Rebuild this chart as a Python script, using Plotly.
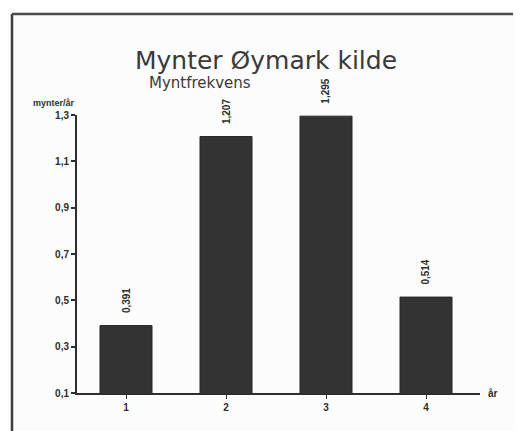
import plotly.graph_objects as go

categories = [1, 2, 3, 4]
values = [0.391, 1.207, 1.295, 0.514]
y_ticks = [0.1, 0.3, 0.5, 0.7, 0.9, 1.1, 1.3]
y_tick_labels = ["0,1", "0,3", "0,5", "0,7", "0,9", "1,1", "1,3"]
x_tick_labels = ["1", "2", "3", "4"]
title_text = "Mynter Øymark kilde"
subtitle_text = "Myntfrekvens"
y_title = "mynter/år"
x_title = "år"

W, H = 521, 431
OFF = 8  # page body margin
FW, FH = W - OFF, H - OFF
L, R, T, B = 77 - OFF, 480 - OFF, 115 - OFF, 393 - OFF

def px_x(p):
    return (p - OFF - L) / (R - L)

def px_y(p):
    return (B - (p - OFF)) / (B - T)

ink = "#2e2e2e"
font_main = "DejaVu Sans"
font_small = "Liberation Sans"

fig = go.Figure()
fig.add_trace(go.Bar(
    x=categories, y=values, width=0.52,
    marker=dict(color="#333333", line=dict(color="#262626", width=1)),
    hoverinfo="skip",
))

for c, v in zip(categories, values):
    fig.add_annotation(
        x=c, y=v, xref="x", yref="y",
        text=f"{v:.3f}".replace(".", ","),
        textangle=-90, showarrow=False,
        xanchor="center", yanchor="bottom", yshift=10,
        font=dict(family=font_small, size=10, color=ink, weight="bold"),
    )

# subtitle and axis titles
fig.add_annotation(x=px_x(200), y=px_y(83), xref="paper", yref="paper",
                   text=subtitle_text, showarrow=False, xanchor="center", yanchor="middle",
                   font=dict(family=font_main, size=15, color="#3a3a3a"))
fig.add_annotation(x=px_x(77), y=px_y(103), xref="paper", yref="paper",
                   text=y_title, showarrow=False, xanchor="right", yanchor="middle",
                   font=dict(family=font_small, size=9, color=ink, weight="bold"))
fig.add_annotation(x=px_x(486), y=0, xref="paper", yref="paper",
                   text=x_title, showarrow=False, xanchor="left", yanchor="middle",
                   font=dict(family=font_small, size=10, color=ink, weight="bold"))

# outer frame
fig.add_shape(type="line", xref="paper", yref="paper",
              x0=px_x(12), x1=px_x(12), y0=px_y(14), y1=px_y(440),
              line=dict(color="#3c3c3c", width=2.5))
fig.add_shape(type="line", xref="paper", yref="paper",
              x0=px_x(12), x1=px_x(530), y0=px_y(14), y1=px_y(14),
              line=dict(color="#4a4a4a", width=2.5))

fig.update_layout(
    width=FW, height=FH,
    margin=dict(l=L, r=FW - R, t=T, b=FH - B, pad=0, autoexpand=False),
    paper_bgcolor="#fcfcfc", plot_bgcolor="#fcfcfc",
    showlegend=False,
    title=dict(text=title_text, xref="container", yref="container",
               x=(266 - OFF) / FW, y=1 - (60 - OFF) / FH, xanchor="center", yanchor="middle",
               font=dict(family=font_main, size=25, color="#3a3a3a")),
    xaxis=dict(range=[0.51, 4.54], tickvals=categories, ticktext=x_tick_labels,
               automargin=False,
               showgrid=False, zeroline=False, showline=True, linecolor=ink, linewidth=2,
               ticks="outside", ticklen=4, tickwidth=1, tickcolor=ink,
               tickfont=dict(family=font_small, size=10, color=ink, weight="bold")),
    yaxis=dict(range=[0.1, 1.3], tickvals=y_ticks, ticktext=y_tick_labels,
               automargin=False,
               showgrid=False, zeroline=False, showline=True, linecolor=ink, linewidth=2,
               ticks="outside", ticklen=4, tickwidth=1.5, tickcolor=ink,
               tickfont=dict(family=font_small, size=10, color=ink, weight="bold")),
)

fig.write_html("out.html")
